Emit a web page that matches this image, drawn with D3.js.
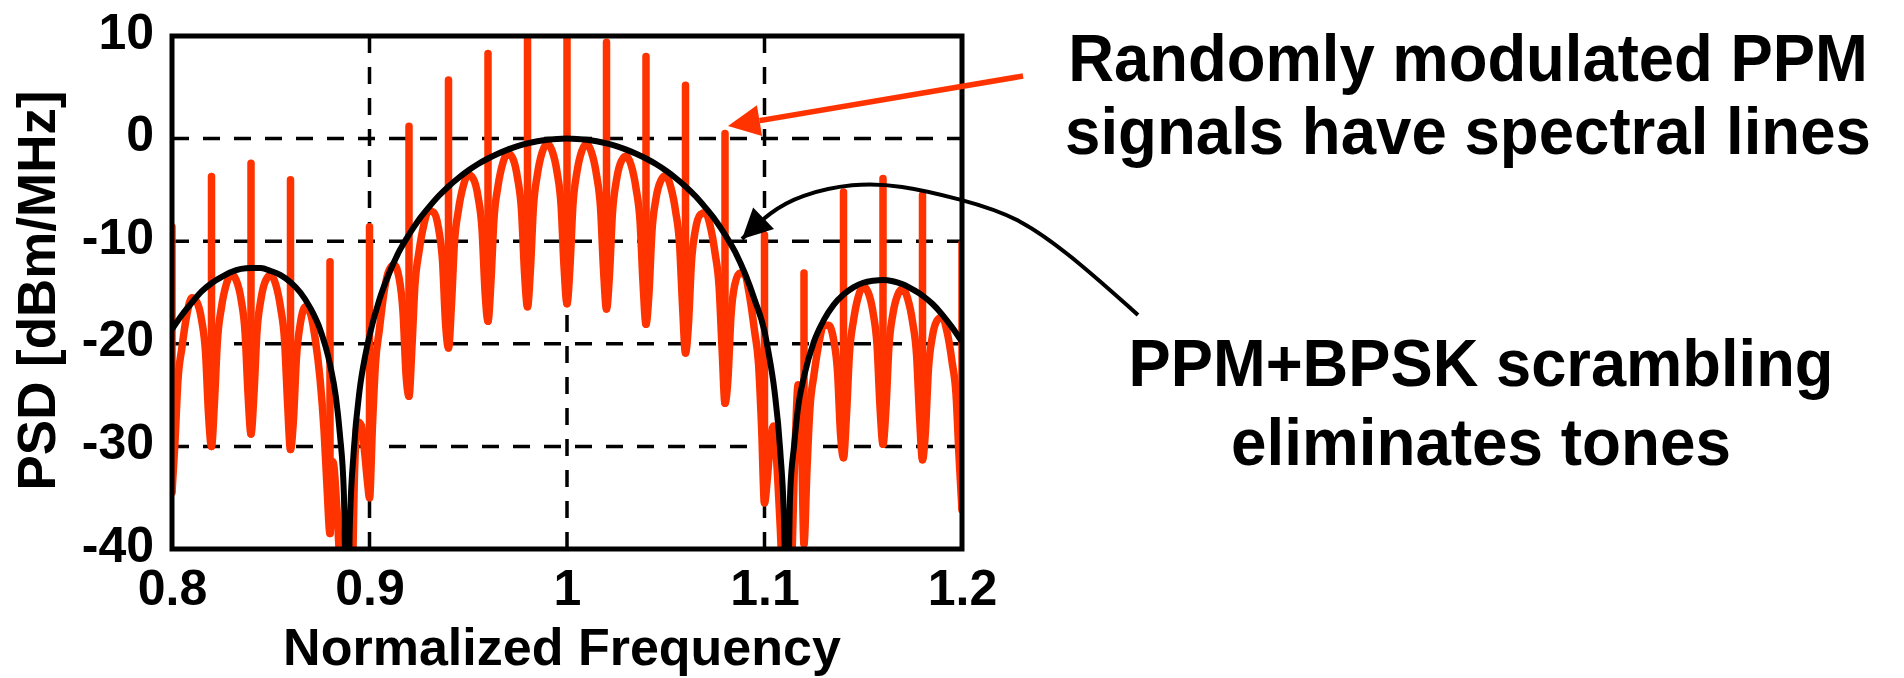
<!DOCTYPE html>
<html>
<head>
<meta charset="utf-8">
<script src="https://cdn.jsdelivr.net/npm/d3@7"></script>
<style>
    body { margin: 0; background: #fff; }
    svg { display: block; }
    .tick text { font-family: "Liberation Sans", Arial, sans-serif; font-weight: bold; font-size: 50px; fill: #000; }
</style>
</head>
<body>
<script>

// spectral lines of the PPM signal (every 0.02)
let lineFreq = [0.80, 0.82, 0.84, 0.86, 0.88, 0.90, 0.92, 0.94, 0.96, 0.98, 1.00,
                1.02, 1.04, 1.06, 1.08, 1.10, 1.12, 1.14, 1.16, 1.18, 1.20];
let lineTop = [-8.6, -3.7, -2.4, -4.0, -12.0, -8.6, 1.2, 5.7, 8.3, 11, 11,
               9.4, 8.0, 5.2, 0.5, -9.4, -13.1, -5.2, -3.9, -5.5, -10.2];
let lineDip = [-34.5, -30.0, -28.8, -30.3, -38.5, -35.0, -25.1, -20.4, -17.8, -16.4, -16.1,
               -16.6, -18.1, -20.9, -25.8, -35.5, -39.5, -31.1, -29.8, -31.3, -36.2];

// continuous part of the PPM spectrum [freq, dB]
let ppmCont = [
    [0.8015, -29.6], [0.803, -23.6], [0.805, -20.4], [0.8075, -17.2], [0.81, -15.5], [0.8125, -15.9], [0.815, -17.7], [0.817, -20.9], [0.8185, -26.9],
    [0.8215, -25.7], [0.823, -19.7], [0.825, -16.5], [0.8275, -14.2], [0.83, -13.2], [0.8325, -13.8], [0.835, -15.7], [0.837, -18.9], [0.8385, -24.9],
    [0.8415, -24.9], [0.843, -18.9], [0.845, -15.7], [0.8475, -13.8], [0.85, -13.3], [0.8525, -14.2], [0.855, -16.5], [0.857, -19.7], [0.8585, -25.7],
    [0.8615, -27.4], [0.863, -21.4], [0.865, -18.0], [0.8675, -16.4], [0.87, -17.0], [0.8725, -19.5], [0.875, -23.5], [0.877, -28.5], [0.8785, -34.0],
    [0.8815, -31.5], [0.8835, -36.0], [0.886, -44], [0.891, -44], [0.8925, -32.0], [0.894, -27.6], [0.896, -28.0], [0.8975, -30.5], [0.899, -33.5],
    [0.9015, -28.0], [0.903, -22.0], [0.905, -18.6], [0.9075, -14.8], [0.91, -12.8], [0.9125, -12.3], [0.915, -13.6], [0.917, -17.0], [0.9185, -23.0],
    [0.9215, -20.3], [0.923, -14.3], [0.925, -11.1], [0.9275, -8.4], [0.93, -7.0], [0.9325, -7.2], [0.935, -8.8], [0.937, -12.0], [0.9385, -18.0],
    [0.9415, -16.2], [0.943, -10.2], [0.945, -7.0], [0.9475, -4.6], [0.95, -3.5], [0.9525, -3.9], [0.955, -5.7], [0.957, -8.9], [0.9585, -14.9],
    [0.9615, -13.9], [0.963, -7.9], [0.965, -4.7], [0.9675, -2.4], [0.97, -1.4], [0.9725, -1.9], [0.975, -3.9], [0.977, -7.1], [0.9785, -13.1],
    [0.9815, -12.7], [0.983, -6.7], [0.985, -3.5], [0.9875, -1.3], [0.99, -0.5], [0.9925, -1.2], [0.995, -3.3], [0.997, -6.5], [0.9985, -12.5],
    [1.0015, -12.5], [1.003, -6.5], [1.005, -3.3], [1.0075, -1.2], [1.01, -0.5], [1.0125, -1.4], [1.015, -3.6], [1.017, -6.8], [1.0185, -12.8],
    [1.0215, -13.3], [1.023, -7.3], [1.025, -4.1], [1.0275, -2.2], [1.03, -1.7], [1.0325, -2.6], [1.035, -4.9], [1.037, -8.1], [1.0385, -14.1],
    [1.0415, -15.1], [1.043, -9.1], [1.045, -5.9], [1.0475, -4.1], [1.05, -3.6], [1.0525, -4.7], [1.055, -7.1], [1.057, -10.3], [1.0585, -16.3],
    [1.0615, -18.1], [1.063, -12.1], [1.065, -8.9], [1.0675, -7.4], [1.07, -7.2], [1.0725, -8.5], [1.075, -11.2], [1.077, -14.4], [1.0785, -20.4],
    [1.0815, -23.4], [1.083, -17.4], [1.085, -14.2], [1.0875, -13.1], [1.09, -13.3], [1.0925, -15.4], [1.095, -18.8], [1.097, -22.0], [1.0985, -28.0],
    [1.1015, -33.0], [1.103, -29.5], [1.1045, -28.0], [1.106, -31.0], [1.108, -38.0], [1.1095, -44], [1.113, -44], [1.1155, -30.0], [1.117, -24.0], [1.1185, -27.0],
    [1.1215, -32.3], [1.123, -26.3], [1.125, -23.1], [1.1275, -20.0], [1.13, -18.2], [1.1325, -18.2], [1.135, -19.6], [1.137, -22.8], [1.1385, -28.8],
    [1.1415, -27.0], [1.143, -21.0], [1.145, -17.8], [1.1475, -15.4], [1.15, -14.4], [1.1525, -15.0], [1.155, -17.0], [1.157, -20.2], [1.1585, -26.2],
    [1.1615, -26.3], [1.163, -20.3], [1.165, -17.1], [1.1675, -15.2], [1.17, -14.6], [1.1725, -15.6], [1.175, -17.9], [1.177, -21.1], [1.1785, -27.1],
    [1.1815, -28.5], [1.183, -22.5], [1.185, -19.3], [1.1875, -17.7], [1.19, -17.4], [1.1925, -18.9], [1.195, -21.8], [1.197, -25.0], [1.1985, -31.0]
];

// PPM+BPSK spectrum (no lines) [freq, dB]
let bpskEnv = [
    [0.800, -18.6], [0.805, -17.2], [0.810, -16.0], [0.815, -14.9], [0.820, -14.1], [0.825, -13.5], [0.830, -13.0], [0.835, -12.7],
    [0.840, -12.6], [0.845, -12.6], [0.850, -12.9], [0.855, -13.3], [0.860, -14.0], [0.865, -15.0], [0.870, -16.5], [0.875, -18.6],
    [0.880, -22.0], [0.883, -25.2], [0.885, -28.8], [0.887, -34.5], [0.8888, -52], [0.890, -38.0], [0.892, -30.5], [0.895, -24.5],
    [0.898, -21.0], [0.900, -19.2], [0.905, -15.7], [0.910, -13.1], [0.915, -11.0], [0.920, -9.35], [0.925, -7.9], [0.930, -6.7],
    [0.935, -5.6], [0.940, -4.66], [0.945, -3.84], [0.950, -3.11], [0.955, -2.48], [0.960, -1.94], [0.965, -1.47], [0.970, -1.07],
    [0.975, -0.74], [0.980, -0.47], [0.985, -0.26], [0.990, -0.12], [0.995, -0.03], [1.000, 0], [1.005, -0.03], [1.010, -0.12],
    [1.015, -0.26], [1.020, -0.47], [1.025, -0.74], [1.030, -1.07], [1.035, -1.47], [1.040, -1.94], [1.045, -2.48], [1.050, -3.11],
    [1.055, -3.84], [1.060, -4.66], [1.065, -5.6], [1.070, -6.7], [1.075, -7.9], [1.080, -9.35], [1.085, -11.0], [1.090, -13.1],
    [1.095, -15.7], [1.100, -18.8], [1.102, -20.8], [1.105, -24.5], [1.108, -30.5], [1.110, -38.0], [1.1112, -52], [1.113, -34.5],
    [1.115, -29.9], [1.117, -26.2], [1.120, -23.2], [1.125, -19.8], [1.130, -17.7], [1.135, -16.2], [1.140, -15.2], [1.145, -14.5],
    [1.150, -14.05], [1.155, -13.85], [1.160, -13.77], [1.165, -13.9], [1.170, -14.2], [1.175, -14.7], [1.180, -15.3], [1.185, -16.1],
    [1.190, -17.15], [1.195, -18.4], [1.200, -19.8]
];

let xTicks = [0.8, 0.9, 1, 1.1, 1.2];
let yTicks = [10, 0, -10, -20, -30, -40];
let xGrid = [0.9, 1, 1.1];
let yGrid = [0, -10, -20, -30];

// annotations, in data units
let redArrow = [[1.2309, 6.1], [1.0815, 1.23]];
let blackArrow = [[1.2891, -17.19], [1.2597, -12.12], [1.2294, -7.64], [1.1990, -5.89], [1.1686, -4.52],
                  [1.1448, -4.33], [1.1180, -5.5], [1.1028, -7.15], [1.0886, -9.79]];
let noteTop = ["Randomly modulated PPM", "signals have spectral lines"];
let noteBottom = ["PPM+BPSK scrambling", "eliminates tones"];

let margin = {top: 36, right: 942, bottom: 129, left: 172},
    width = 1904 - margin.left - margin.right,
    height = 678 - margin.top - margin.bottom;

let x = d3.scaleLinear().domain([0.8, 1.2]).range([0, width]);
let y = d3.scaleLinear().domain([-40, 10]).range([height, 0]);

let svg = d3.select("body").append("svg")
    .attr("width", width + margin.left + margin.right)
    .attr("height", height + margin.top + margin.bottom);

let g = svg.append("g")
    .attr("transform", "translate(" + margin.left + "," + margin.top + ")");

g.append("clipPath").attr("id", "plotClip")
    .append("rect").attr("width", width).attr("height", height);

// dashed grid
g.selectAll(".vgrid").data(xGrid).enter().append("line")
    .attr("x1", d => x(d)).attr("x2", d => x(d))
    .attr("y1", 0).attr("y2", height)
    .attr("stroke", "#000").attr("stroke-width", 3.5).attr("stroke-dasharray", "17,14");
g.selectAll(".hgrid").data(yGrid).enter().append("line")
    .attr("x1", 0).attr("x2", width)
    .attr("y1", d => y(d)).attr("y2", d => y(d))
    .attr("stroke", "#000").attr("stroke-width", 3.5).attr("stroke-dasharray", "17,14");

let plot = g.append("g").attr("clip-path", "url(#plotClip)");

// PPM: continuous part joined with the line dips, then the lines on top
let ppm = ppmCont.concat(lineFreq.map((f, i) => [f, lineDip[i]]))
    .sort((a, b) => a[0] - b[0]);

let line = d3.line()
    .x(d => x(d[0]))
    .y(d => y(d[1]))
    .curve(d3.curveMonotoneX);

plot.append("path")
    .datum(ppm)
    .attr("d", line)
    .attr("fill", "none")
    .attr("stroke", "#ff3300")
    .attr("stroke-width", 7.5)
    .attr("stroke-linejoin", "round");

plot.selectAll(".spike").data(lineFreq).enter().append("line")
    .attr("x1", d => x(d)).attr("x2", d => x(d))
    .attr("y1", (d, i) => y(lineDip[i]))
    .attr("y2", (d, i) => y(lineTop[i]))
    .attr("stroke", "#ff3300")
    .attr("stroke-width", 7.5)
    .attr("stroke-linecap", "round");

plot.append("path")
    .datum(bpskEnv)
    .attr("d", line)
    .attr("fill", "none")
    .attr("stroke", "#000")
    .attr("stroke-width", 6)
    .attr("stroke-linejoin", "round");

// axes box
g.append("rect")
    .attr("width", width).attr("height", height)
    .attr("fill", "none").attr("stroke", "#000").attr("stroke-width", 5);

g.append("g")
    .attr("transform", "translate(0," + height + ")")
    .call(d3.axisBottom(x).tickValues(xTicks).tickSize(0).tickPadding(20).tickFormat(d => String(d)))
    .call(a => a.select(".domain").remove());

g.append("g")
    .call(d3.axisLeft(y).tickValues(yTicks).tickSize(0).tickPadding(18).tickFormat(d => String(d)))
    .call(a => a.select(".domain").remove())
    .selectAll("text").attr("dy", "0.24em");

// text squeezed to a given width with a horizontal scale
function fitText(parent, str, cx, cy, targetW, font, size, rotate) {
    let t = parent.append("text")
        .attr("text-anchor", "middle")
        .style("font-family", font).style("font-weight", "bold").style("font-size", size + "px")
        .text(str);
    let w = t.node().getComputedTextLength();
    t.attr("transform", "translate(" + cx + "," + cy + ")" + (rotate ? " rotate(" + rotate + ")" : "") +
        " scale(" + (targetW / w) + ",1)");
    return t;
}

let labelFont = "'Liberation Sans', Arial, sans-serif";
fitText(g, "Normalized Frequency", width / 2 - 5, height + 116, 558, labelFont, 52);
fitText(g, "PSD [dBm/MHz]", -117, height / 2 - 2, 400, labelFont, 53, -90);

// annotation arrows
function arrowHead(tip, prev, len, hw, color) {
    let dx = tip[0] - prev[0], dy = tip[1] - prev[1];
    let l = Math.sqrt(dx * dx + dy * dy);
    let ux = dx / l, uy = dy / l;
    let bx = tip[0] - ux * len, by = tip[1] - uy * len;
    g.append("path")
        .attr("d", "M" + tip[0] + "," + tip[1] +
            "L" + (bx - uy * hw) + "," + (by + ux * hw) +
            "L" + (bx + uy * hw) + "," + (by - ux * hw) + "Z")
        .attr("fill", color);
    return [bx, by];
}

let rp = redArrow.map(d => [x(d[0]), y(d[1])]);
let rBase = arrowHead(rp[1], rp[0], 32, 15.5, "#ff3300");
g.append("line")
    .attr("x1", rp[0][0]).attr("y1", rp[0][1])
    .attr("x2", rBase[0]).attr("y2", rBase[1])
    .attr("stroke", "#ff3300").attr("stroke-width", 5.5);

let bp = blackArrow.map(d => [x(d[0]), y(d[1])]);
g.append("path")
    .attr("d", d3.line().curve(d3.curveBasis)(bp))
    .attr("fill", "none").attr("stroke", "#000").attr("stroke-width", 4);
arrowHead(bp[bp.length - 1], bp[bp.length - 2], 30, 15, "#000");

// annotation text
let noteFont = "'Liberation Sans Narrow', 'Arial Narrow', 'Liberation Sans', Arial, sans-serif";
let noteSpecs = [
    {lines: noteTop, cx: 1468, base: [81, 154], widths: [800, 806]},
    {lines: noteBottom, cx: 1481, base: [386, 465], widths: [705, 500]}
];
noteSpecs.forEach(n => {
    n.lines.forEach((t, i) => {
        fitText(svg, t, n.cx, n.base[i], n.widths[i], noteFont, 67);
    });
});

</script>
</body>
</html>
